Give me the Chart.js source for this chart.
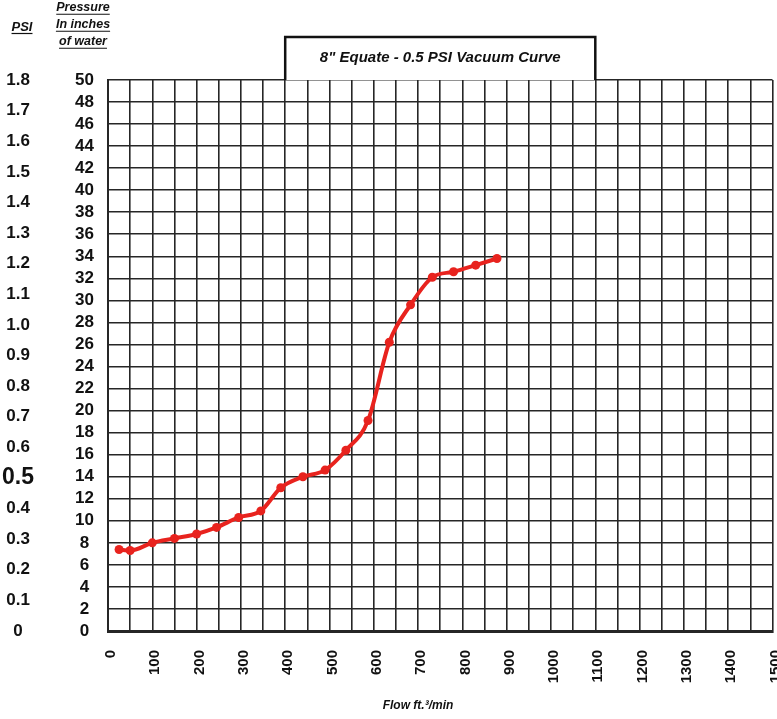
<!DOCTYPE html>
<html>
<head>
<meta charset="utf-8">
<script src="https://cdn.jsdelivr.net/npm/chart.js@4.4.1/dist/chart.umd.min.js"></script>
<style>
  html, body { margin: 0; padding: 0; background: #fff; }
  #wrap { width: 777px; height: 719px; }
</style>
</head>
<body>
<div id="wrap"><canvas id="chart"></canvas></div>
<script>
// ---- data ----
const flowValues = [25, 50, 100, 150, 200, 245, 295, 345, 390, 440, 490, 537, 587, 635, 683, 732, 780, 830, 878];
const pressureValues = [7.4, 7.3, 8.0, 8.4, 8.8, 9.4, 10.3, 10.9, 13.0, 14.0, 14.6, 16.4, 19.1, 26.2, 29.6, 32.1, 32.6, 33.2, 33.8];

// ---- axes ----
const flowMax = 1500;
const flowGridStep = 50;      // vertical grid lines
const flowLabelStep = 100;    // labelled ticks
const inchMax = 50;
const inchStep = 2;
const psiLabels = ['0', '0.1', '0.2', '0.3', '0.4', '0.5', '0.6', '0.7', '0.8', '0.9',
                   '1.0', '1.1', '1.2', '1.3', '1.4', '1.5', '1.6', '1.7', '1.8'];

const chartTitle = '8" Equate - 0.5 PSI Vacuum Curve';
const xTitle = 'Flow ft.\u00B3/min';

const FONT = '"Liberation Sans", Arial, sans-serif';
const GRID = '#262626';
const RED = '#e8231e';

// extra texts: header labels, boxed title, x title
const annotations = {
    id: 'annotations',
    afterDraw(chart) {
        const ctx = chart.ctx;
        const area = chart.chartArea;
        const x = chart.scales.x;

        ctx.save();
        ctx.fillStyle = '#111';
        ctx.strokeStyle = '#111';
        ctx.textAlign = 'center';
        ctx.textBaseline = 'middle';

        // underlined header labels
        const underlined = (text, cx, cy, size) => {
            ctx.font = `italic bold ${size}px ${FONT}`;
            ctx.fillText(text, cx, cy);
            const w = ctx.measureText(text).width;
            ctx.lineWidth = 1.2;
            ctx.beginPath();
            ctx.moveTo(cx - w / 2, cy + size / 2);
            ctx.lineTo(cx + w / 2, cy + size / 2);
            ctx.stroke();
        };
        underlined('PSI', 22, 27, 13);
        underlined('Pressure', 83, 8, 12.5);
        underlined('In inches', 83, 25, 12.5);
        underlined('of water', 83, 42, 12.5);

        // title box sitting on the top of the grid
        const bx1 = x.getPixelForValue(400);
        const bx2 = x.getPixelForValue(1100);
        const by = area.top - 43;
        ctx.fillStyle = '#fff';
        ctx.fillRect(bx1, by, bx2 - bx1, 43);
        ctx.lineWidth = 2.5;
        ctx.strokeStyle = '#111';
        ctx.beginPath();
        ctx.moveTo(bx1, area.top);
        ctx.lineTo(bx1, by);
        ctx.lineTo(bx2, by);
        ctx.lineTo(bx2, area.top);
        ctx.stroke();
        ctx.fillStyle = '#111';
        ctx.font = `italic bold 15px ${FONT}`;
        ctx.fillText(chartTitle, (bx1 + bx2) / 2, by + 21);

        // x axis title
        ctx.font = `italic bold 12px ${FONT}`;
        ctx.fillText(xTitle, 418, 706);
        ctx.restore();
    }
};

const points = flowValues.map((f, i) => ({ x: f, y: pressureValues[i] }));

new Chart(document.getElementById('chart'), {
    type: 'line',
    data: {
        datasets: [{
            data: points,
            borderColor: RED,
            backgroundColor: RED,
            borderWidth: 4,
            pointRadius: 4.5,
            pointBackgroundColor: RED,
            pointBorderWidth: 0,
            cubicInterpolationMode: 'monotone',
            yAxisID: 'y'
        }]
    },
    options: {
        responsive: true,
        maintainAspectRatio: false,
        animation: false,
        layout: { padding: { top: 80, right: 3, left: 0, bottom: 0 } },
        plugins: {
            legend: { display: false },
            tooltip: { enabled: false }
        },
        scales: {
            x: {
                type: 'linear',
                min: 0,
                max: flowMax,
                afterFit: s => { s.height = 88; s.paddingLeft = 0; s.paddingRight = 0; },
                border: { color: GRID, width: 3 },
                grid: { color: GRID, lineWidth: 1.6, drawTicks: false },
                ticks: {
                    stepSize: flowGridStep,
                    autoSkip: false,
                    minRotation: 90,
                    maxRotation: 90,
                    padding: 19,
                    labelOffset: 3,
                    color: '#111',
                    font: { family: FONT, size: 15, weight: 'bold' },
                    callback: v => (v % flowLabelStep === 0 ? String(v) : '')
                }
            },
            y: {
                type: 'linear',
                position: 'left',
                weight: 0,
                min: 0,
                max: inchMax,
                afterFit: s => { s.width = 53; s.paddingTop = 0; s.paddingBottom = 0; },
                border: { color: GRID, width: 2 },
                grid: { color: GRID, lineWidth: 1.6, drawTicks: false },
                ticks: {
                    stepSize: inchStep,
                    autoSkip: false,
                    crossAlign: 'center',
                    padding: 14,
                    color: '#111',
                    font: { family: FONT, size: 17, weight: 'bold' }
                }
            },
            psi: {
                type: 'linear',
                position: 'left',
                weight: 1,
                min: 0,
                max: psiLabels.length - 1,
                afterFit: s => { s.width = 55; s.paddingTop = 0; s.paddingBottom = 0; },
                border: { display: false },
                grid: { display: false, drawTicks: false },
                ticks: {
                    stepSize: 1,
                    autoSkip: false,
                    crossAlign: 'center',
                    padding: 21,
                    color: '#111',
                    font: c => c.index === 5
                        ? { family: FONT, size: 23, weight: 'bold' }
                        : { family: FONT, size: 17, weight: 'bold' },
                    callback: (v, i) => psiLabels[i]
                }
            }
        }
    },
    plugins: [annotations]
});
</script>
</body>
</html>
